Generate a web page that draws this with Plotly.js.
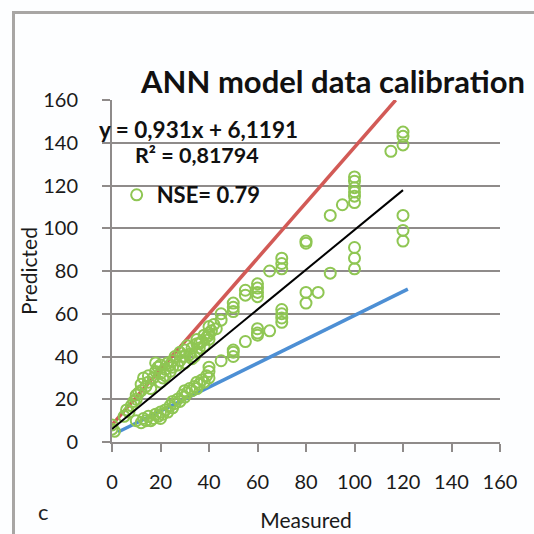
<!DOCTYPE html>
<html>
<head>
<meta charset="utf-8">
<script src="https://cdn.plot.ly/plotly-3.0.1.min.js"></script>
<style>
  html, body { margin: 0; padding: 0; background: #fdfeff; }
  #frame { position: absolute; left: 12px; top: 11px; width: 540px; height: 540px;
           border-left: 3px solid #a8a6a4; border-top: 3px solid #a8a6a4; }
  #chart { position: absolute; left: 0; top: 0; width: 534px; height: 534px; }
</style>
</head>
<body>
<div id="frame"></div>
<div id="chart"></div>
<script>
// Measured / Predicted pairs
const measured = [
  0, 0, 1,
  5, 7, 8, 10, 10, 12, 12, 13, 14, 15, 15, 16, 17, 18, 18, 19, 20, 20, 20, 21, 22, 23, 24, 25, 25, 26, 27, 28, 28,
  30, 30, 30, 31, 32, 33, 34, 35, 35, 35, 36, 37, 38, 38, 40, 40, 40, 40, 41, 42, 45, 45,
  6, 9, 11, 22, 24, 29, 33, 36, 39, 43,
  50, 50, 50, 55, 55, 60, 60, 60, 60, 65, 70, 70, 70,
  80, 80, 90, 95, 100, 100, 100, 100, 100, 100, 115, 120, 120, 120,
  10, 12, 13, 14, 15, 16, 17, 18, 19, 20, 20, 21, 22, 23, 24, 25, 25, 26, 27, 28, 29, 30, 30, 31, 32, 33, 34, 35, 35, 36, 37, 38, 39, 40, 40, 40,
  45, 50, 50, 50, 55, 60, 60, 60, 65, 70, 70, 70, 70,
  80, 80, 85, 90, 100, 100, 100, 120, 120, 120
];
const predicted = [
  6, 8, 5,
  12, 14, 17, 20, 22, 24, 27, 30, 26, 28, 31, 25, 30, 33, 37, 35, 28, 32, 36, 30, 34, 37, 33, 35, 38, 40, 36, 38, 42,
  37, 40, 43, 45, 41, 44, 40, 42, 46, 48, 44, 47, 50, 45, 48, 51, 54, 50, 52, 55, 57, 60,
  15, 19, 23, 31, 36, 40, 39, 46, 49, 53,
  61, 63, 65, 68.7, 71, 68, 70, 72, 74, 80, 81, 83.5, 86,
  93, 94, 106, 111, 112, 115, 117, 119, 122, 124, 136, 139, 143, 145,
  10, 9, 11, 10, 12, 10, 11, 13, 12, 11, 14, 13, 15, 14, 17, 16, 19, 18, 20, 19, 22, 21, 24, 23, 25, 24, 26, 25, 28, 27, 29, 28, 31, 30, 33, 35,
  38, 40, 42, 43, 47, 50, 51, 53, 52, 56, 58, 60, 62,
  65, 70, 70, 79, 81, 86, 91, 94, 99, 106
];
// Reference lines (end points)
const redX = [0, 117];
const redY = [8, 160];
const blueX = [2.5, 122];
const blueY = [4.7, 71.5];
const fitX = [0, 120];
const fitY = [6.1191, 117.84];

const axisTicks = [0, 20, 40, 60, 80, 100, 120, 140, 160];

const FONT = 'Lato, "Open Sans", sans-serif';
const GRID = '#8f8b8a';

const traces = [
  { x: redX, y: redY, mode: 'lines', line: { color: '#d25a56', width: 3.5 }, showlegend: false, hoverinfo: 'skip' },
  { x: blueX, y: blueY, mode: 'lines', line: { color: '#4d8fd4', width: 3.5 }, showlegend: false, hoverinfo: 'skip' },
  { x: measured, y: predicted, mode: 'markers', name: '<b>NSE= 0.79</b>',
    marker: { symbol: 'circle-open', size: 11, color: '#8fc653', line: { width: 2, color: '#8fc653' } } },
  { x: fitX, y: fitY, mode: 'lines', line: { color: '#000000', width: 2 }, showlegend: false, hoverinfo: 'skip' }
];

const layout = {
  width: 534, height: 534,
  margin: { l: 112, r: 34, t: 100, b: 92 },
  paper_bgcolor: 'rgba(0,0,0,0)',
  plot_bgcolor: '#ffffff',
  font: { family: FONT, color: '#1a1a1a' },
  title: { text: '<b>ANN model data calibration</b>', font: { family: FONT, size: 31, color: '#111' },
           x: 333 / 534, xanchor: 'center', y: 1 - 82 / 534, yanchor: 'middle' },
  xaxis: {
    range: [0, 160], tickvals: axisTicks, ticktext: axisTicks.map(String),
    showgrid: false, zeroline: false, showline: true, linecolor: GRID, linewidth: 2,
    ticks: 'outside', ticklen: 8, tickwidth: 2, tickcolor: GRID,
    tickfont: { size: 20, family: FONT, color: '#1a1a1a' }, ticklabelstandoff: 13,
    title: { text: 'Measured', font: { size: 21, family: FONT }, standoff: 21 }
  },
  yaxis: {
    range: [0, 160], tickvals: axisTicks, ticktext: axisTicks.map(String),
    showgrid: true, gridcolor: GRID, gridwidth: 2, zeroline: false,
    showline: true, linecolor: GRID, linewidth: 2,
    ticks: 'outside', ticklen: 8, tickwidth: 2, tickcolor: GRID,
    tickfont: { size: 20, family: FONT, color: '#1a1a1a' }, ticklabelstandoff: 20,
    title: { text: 'Predicted', font: { size: 21, family: FONT }, standoff: 0 }
  },
  showlegend: true,
  legend: { x: 0.012, y: 1 - 95 / 342, xanchor: 'left', yanchor: 'middle', bgcolor: 'rgba(0,0,0,0)',
            font: { family: FONT, size: 22, color: '#111' }, itemwidth: 30 },
  annotations: [
    { text: '<b>y = 0,931x + 6,1191</b>', xref: 'paper', yref: 'paper', x: (97 - 112) / 388, y: (442 - 129) / 342,
      xanchor: 'left', yanchor: 'middle', showarrow: false, font: { family: FONT, size: 22.5, color: '#111' } },
    { text: '<b>R² = 0,81794</b>', xref: 'paper', yref: 'paper', x: (133 - 112) / 388, y: (442 - 155) / 342,
      xanchor: 'left', yanchor: 'middle', showarrow: false, font: { family: FONT, size: 21.5, color: '#111' } },
    { text: 'c', xref: 'paper', yref: 'paper', x: (43 - 112) / 388, y: (442 - 511) / 342,
      xanchor: 'center', yanchor: 'middle', showarrow: false, font: { family: FONT, size: 22, color: '#222' } }
  ]
};

Plotly.newPlot('chart', traces, layout, { displayModeBar: false, staticPlot: true });
</script>
</body>
</html>
